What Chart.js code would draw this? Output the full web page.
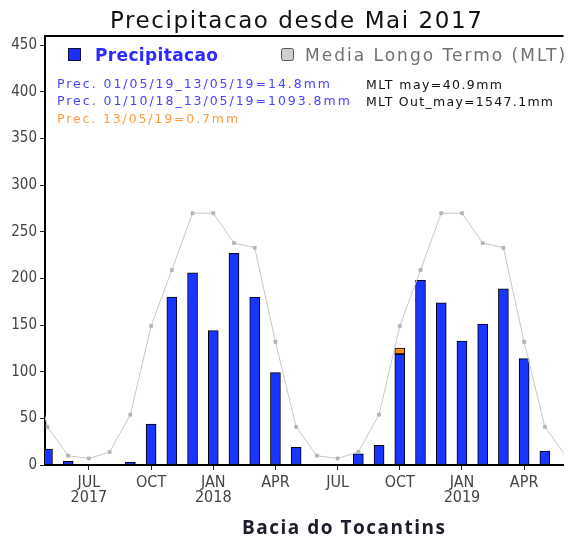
<!DOCTYPE html>
<html>
<head>
<meta charset="utf-8">
<script src="https://cdn.jsdelivr.net/npm/chart.js@4.4.1/dist/chart.umd.min.js"></script>
<style>
  html, body { margin: 0; padding: 0; background: #fff; }
  #wrap { width: 568px; height: 541px; position: relative; }
</style>
</head>
<body>
<div id="wrap"><canvas id="c"></canvas></div>
<script>
// ---- data (month index 0 = May 2017) ----
const monthIndex = [0,1,2,3,4,5,6,7,8,9,10,11,12,13,14,15,16,17,18,19,20,21,22,23,24];
const precip     = [17,4,0,0,3,44,180,206,144,227,180,99,19,0,0,12,21,119,198,174,133,151,189,114,14.8];
const precipLast = [0,0,0,0,0,0,0,0,0,0,0,0,0,0,0,0,0,6.5,0,0,0,0,0,0,0];
const mltIndex   = [-1,0,1,2,3,4,5,6,7,8,9,10,11,12,13,14,15,16,17,18,19,20,21,22,23,24,25];
const mlt        = [132,40.9,10,7,14,54,149,209,270,270,238,233,132,40.9,10,7,14,54,149,209,270,270,238,233,132,40.9,10];
const tickIndex  = [2,5,8,11,14,17,20,23];
const tickLabels = [['JUL','2017'],['OCT'],['JAN','2018'],['APR'],['JUL'],['OCT'],['JAN','2019'],['APR']];
const yTicks     = [0,50,100,150,200,250,300,350,400,450];

const titleText = 'Precipitacao desde Mai 2017';
const legendA = 'Precipitacao';
const legendB = 'Media Longo Termo (MLT)';
const infoLeft = ['Prec. 01/05/19_13/05/19=14.8mm','Prec. 01/10/18_13/05/19=1093.8mm','Prec. 13/05/19=0.7mm'];
const infoRight = ['MLT may=40.9mm','MLT Out_may=1547.1mm'];
const xTitle = 'Bacia do Tocantins';

const NARROW = "'Liberation Sans Narrow', 'DejaVu Sans Condensed', 'DejaVu Sans', sans-serif";

function fitText(ctx, text, x, y, width, font, color) {
  ctx.save();
  ctx.font = font;
  ctx.fillStyle = color;
  ctx.textAlign = 'left';
  ctx.textBaseline = 'alphabetic';
  ctx.letterSpacing = '0px';
  const w = ctx.measureText(text).width;
  const ls = (width - w) / Math.max(1, text.length - 1);
  ctx.letterSpacing = ls.toFixed(2) + 'px';
  ctx.fillText(text, x, y);
  ctx.restore();
}

const decor = {
  id: 'decor',
  afterDraw(chart) {
    const ctx = chart.ctx;
    const a = chart.chartArea;
    // top frame line
    ctx.save();
    ctx.strokeStyle = '#000';
    ctx.lineWidth = 2;
    ctx.beginPath();
    ctx.moveTo(a.left - 1, a.top);
    ctx.lineTo(a.right, a.top);
    ctx.stroke();
    ctx.restore();

    fitText(ctx, titleText, 110, 28, 372, "23px 'DejaVu Sans'", '#111');

    // legend boxes
    ctx.save();
    ctx.fillStyle = '#1a2cff';
    ctx.strokeStyle = '#101040';
    ctx.lineWidth = 1;
    ctx.fillRect(68.5, 48.5, 12, 12);
    ctx.strokeRect(68.5, 48.5, 12, 12);
    ctx.fillStyle = '#cfcfcf';
    ctx.strokeStyle = '#555';
    ctx.beginPath();
    ctx.roundRect(281.5, 48.5, 12, 12, 2);
    ctx.fill();
    ctx.stroke();
    ctx.restore();

    fitText(ctx, legendA, 95, 61, 123, "bold 17px 'DejaVu Sans'", '#2b2bff');
    fitText(ctx, legendB, 305, 61, 260, "17px 'DejaVu Sans'", '#707070');

    fitText(ctx, infoLeft[0], 57, 88, 273, "12.5px 'DejaVu Sans'", '#4545ff');
    fitText(ctx, infoLeft[1], 57, 105, 293, "12.5px 'DejaVu Sans'", '#4545ff');
    fitText(ctx, infoLeft[2], 57, 123, 181, "12.5px 'DejaVu Sans'", '#ff9a40');
    fitText(ctx, infoRight[0], 366, 89, 136, "12.5px 'DejaVu Sans'", '#111');
    fitText(ctx, infoRight[1], 366, 106, 187, "12.5px 'DejaVu Sans'", '#111');

    fitText(ctx, xTitle, 242, 534, 203, "bold 19px 'Open Sans'", '#1c1c2a');
  }
};

const barData = monthIndex.map((m, i) => ({ x: m, y: precip[i] }));
const barData2 = monthIndex.map((m, i) => ({ x: m, y: precipLast[i] }));
const lineData = mltIndex.map((m, i) => ({ x: m, y: mlt[i] }));

new Chart(document.getElementById('c'), {
  type: 'bar',
  data: {
    datasets: [
      {
        type: 'line',
        label: 'MLT',
        data: lineData,
        stack: 'mlt',
        borderColor: '#c8c8c8',
        borderWidth: 1,
        pointStyle: 'rect',
        pointRadius: 2.2,
        pointBackgroundColor: '#b4b4b4',
        pointBorderColor: '#a8a8a8',
        pointBorderWidth: 0.5,
        tension: 0,
        order: 0
      },
      {
        label: 'Precipitacao',
        data: barData,
        stack: 'p',
        backgroundColor: '#1a35ff',
        borderColor: '#000',
        borderWidth: 1,
        barThickness: 10,
        borderSkipped: false,
        order: 1
      },
      {
        label: 'Ultimo dia',
        data: barData2,
        stack: 'p',
        backgroundColor: '#ff8c1a',
        borderColor: '#000',
        borderWidth: 1,
        barThickness: 10,
        borderSkipped: false,
        order: 1
      }
    ]
  },
  options: {
    responsive: true,
    maintainAspectRatio: false,
    animation: false,
    devicePixelRatio: 1,
    layout: { padding: { top: 36, left: 0, right: 0, bottom: 0 } },
    plugins: { legend: { display: false }, title: { display: false }, tooltip: { enabled: false } },
    scales: {
      x: {
        type: 'linear',
        stacked: true,
        offset: false,
        min: -0.12,
        max: 24.9,
        afterBuildTicks(scale) { scale.ticks = tickIndex.map(v => ({ value: v })); },
        afterFit(scale) { scale.height = 76; },
        ticks: {
          autoSkip: false,
          maxRotation: 0,
          padding: 5,
          color: '#444',
          font: { family: NARROW, size: 16, lineHeight: 0.95 },
          callback(value) {
            const k = tickIndex.indexOf(value);
            return k >= 0 ? tickLabels[k] : '';
          }
        },
        grid: { display: true, drawOnChartArea: false, drawTicks: true, tickLength: 5, color: '#222', offset: false },
        border: { display: true, color: '#000', width: 2 }
      },
      y: {
        type: 'linear',
        stacked: true,
        min: 0,
        max: 460,
        afterBuildTicks(scale) { scale.ticks = yTicks.map(v => ({ value: v })); },
        afterFit(scale) { scale.width = 45; },
        ticks: {
          padding: 3,
          color: '#444',
          font: { family: NARROW, size: 15 }
        },
        grid: { display: true, drawOnChartArea: false, drawTicks: true, tickLength: 5, color: '#222' },
        border: { display: true, color: '#000', width: 2 }
      }
    }
  },
  plugins: [decor]
});
</script>
</body>
</html>
